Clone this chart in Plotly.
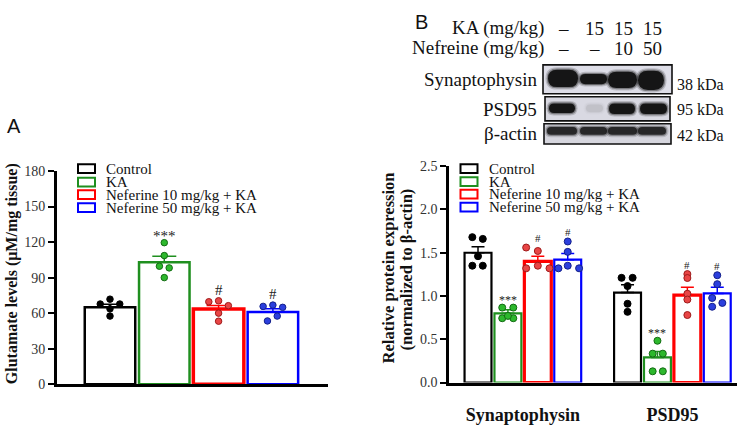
import plotly.graph_objects as go

W, H = 751, 425
def px(x): return x / W
def py(y): return (H - y) / H

SERIF = "Liberation Serif"

groups = ["Control", "KA", "Neferine 10 mg/kg + KA", "Neferine 50 mg/kg + KA"]
line_colors = ["#000000", "#1f8f1f", "#ff0000", "#0000ff"]
dot_fill = ["#000000", "#2db82d", "#e84545", "#2b3fdd"]
dot_edge = ["#000000", "#136b13", "#9e1a1a", "#14208a"]
bar_line_w = [2.5, 2.5, 3.5, 2.5]

# ---------- Panel A : glutamate ----------
glu_mean = [65.0, 103.0, 63.5, 61.0]
glu_sem = [2.6, 5.0, 3.0, 2.8]
glu_pts = [[67.7, 71.8, 67.7, 63.6, 57.5],
           [119.5, 108.6, 99.6, 98.2, 90.0],
           [69.6, 70.4, 66.3, 60.0, 53.2],
           [65.7, 66.8, 64.9, 57.5, 53.4]]
glu_jit = [[-0.18, 0, 0.18, 0, 0],
           [0, 0, -0.09, 0.09, 0],
           [-0.18, 0, 0.18, 0, 0],
           [-0.18, 0, 0.18, 0.08, -0.1]]
glu_marks = ["", "***", "#", "#"]
glu_ticks = [0, 30, 60, 90, 120, 150, 180]

# ---------- Panel B : protein expression ----------
proteins = ["Synaptophysin", "PSD95"]
syn_mean = [1.50, 0.80, 1.40, 1.42]
syn_sem = [0.07, 0.04, 0.06, 0.07]
syn_pts = [[1.68, 1.66, 1.35, 1.35, 1.46],
           [0.866, 0.866, 0.743, 0.743, 0.77],
           [1.56, 1.52, 1.32, 1.35, 1.32],
           [1.63, 1.51, 1.32, 1.35, 1.32]]
syn_jit = [[-0.19, 0.16, -0.19, 0.16, 0],
           [-0.19, 0.18, -0.19, 0.18, 0],
           [-0.39, 0, -0.39, 0, 0.39],
           [0, 0, -0.31, 0, 0.38]]
psd_mean = [1.04, 0.29, 1.01, 1.03]
psd_sem = [0.09, 0.07, 0.09, 0.07]
psd_pts = [[1.21, 1.21, 1.115, 0.91, 0.817],
           [0.483, 0.334, 0.334, 0.13, 0.13],
           [1.253, 1.208, 1.026, 0.959, 0.78],
           [1.24, 1.137, 0.977, 0.92, 0.876]]
psd_jit = [[-0.2, 0.17, 0, 0, 0],
           [0, -0.16, 0.18, -0.16, 0.18],
           [0, 0, 0, 0, 0],
           [0, 0, -0.17, 0.17, -0.17]]
syn_marks = ["", "***", "#", "#"]
psd_marks = ["", "***", "#", "#"]
exp_ticks = [0.0, 0.5, 1.0, 1.5, 2.0, 2.5]

# ---------- Western blot labels ----------
ka_dose = ["–", "15", "15", "15"]
nef_dose = ["–", "–", "10", "50"]
blot_rows = ["Synaptophysin", "PSD95", "β-actin"]
blot_kda = ["38 kDa", "95 kDa", "42 kDa"]
band_strength = [[1.0, 1.0, 1.0, 1.0],
                 [1.0, 0.08, 1.0, 1.0],
                 [0.85, 0.85, 0.85, 0.85]]

fig = go.Figure()

# Panel A bars + points
for i, g in enumerate(groups):
    fig.add_trace(go.Bar(
        x=[i], y=[glu_mean[i]], width=0.93, xaxis="x", yaxis="y",
        marker=dict(color="white", line=dict(color=line_colors[i], width=bar_line_w[i])),
        error_y=dict(type="data", array=[glu_sem[i]], arrayminus=[0], symmetric=False,
                     color=line_colors[i], thickness=1.5, width=12),
        showlegend=False, name=g))
for i, g in enumerate(groups):
    fig.add_trace(go.Scatter(
        x=[i + j for j in glu_jit[i]], y=glu_pts[i], mode="markers", xaxis="x", yaxis="y",
        marker=dict(size=6.5, color=dot_fill[i], line=dict(color=dot_edge[i], width=1)),
        showlegend=False))

# Panel B bars + points
for gi, (means, sems, pts, jit) in enumerate([(syn_mean, syn_sem, syn_pts, syn_jit),
                                               (psd_mean, psd_sem, psd_pts, psd_jit)]):
    base = gi * 5
    for i, g in enumerate(groups):
        fig.add_trace(go.Bar(
            x=[base + i], y=[means[i]], width=0.9, xaxis="x2", yaxis="y2",
            marker=dict(color="white", line=dict(color=line_colors[i], width=bar_line_w[i] - 0.3)),
            error_y=dict(type="data", array=[sems[i]], arrayminus=[0], symmetric=False,
                         color=line_colors[i], thickness=1.5, width=6.5),
            showlegend=False, name=g))
    for i, g in enumerate(groups):
        fig.add_trace(go.Scatter(
            x=[base + i + j for j in jit[i]], y=pts[i], mode="markers", xaxis="x2", yaxis="y2",
            marker=dict(size=7, color=dot_fill[i], line=dict(color=dot_edge[i], width=1)),
            showlegend=False))

annotations = []
shapes = []

def note(x, y, text, size, xanchor="center", family=SERIF, **kw):
    d = dict(x=px(x), y=py(y), xref="paper", yref="paper", text=text, showarrow=False,
             xanchor=xanchor, yanchor="middle", font=dict(family=family, size=size, color="#111"))
    d.update(kw)
    annotations.append(d)

# significance marks
for i, m in enumerate(glu_marks):
    if m:
        pad = 6 if m == "***" else 9.5
        annotations.append(dict(x=i, y=max(glu_pts[i]) + pad, xref="x", yref="y", text=m,
                                showarrow=False, font=dict(family=SERIF, size=15, color="#222"),
                                xanchor="center", yanchor="middle"))
for gi, (marks, pts) in enumerate([(syn_marks, syn_pts), (psd_marks, psd_pts)]):
    for i, m in enumerate(marks):
        if m:
            pad = 0.09 if m == "***" else 0.11
            annotations.append(dict(x=gi * 5 + i, y=max(pts[i]) + pad, xref="x2", yref="y2", text=m,
                                    showarrow=False,
                                    font=dict(family=SERIF, size=12 if m == "***" else 11, color="#222"),
                                    xanchor="center", yanchor="middle"))

# custom legends
def legend(x_box, x_text, rows_y):
    for i, g in enumerate(groups):
        y = rows_y[i]
        shapes.append(dict(type="rect", xref="paper", yref="paper",
                           x0=px(x_box), x1=px(x_box + 17), y0=py(y - 4.5), y1=py(y + 4.5),
                           line=dict(color=line_colors[i], width=2), fillcolor="white"))
        note(x_text, y, g, 15, xanchor="left")
legend(78, 104, [167.5, 181.5, 194.5, 208])
legend(460.5, 487, [167.5, 181, 194, 207.5])

# axis titles
note(12, 277, "<b>Glutamate levels (μM/mg tissue)</b>", 16, textangle=-90)
note(388, 271, "<b>Relative protein expression</b>", 16.5, textangle=-90)
note(406, 272, "<b>(normalized to β-actin)</b>", 16.5, textangle=-90)

# panel letters
note(13.5, 123, "A", 20, family="Liberation Sans")
note(422, 16, "B", 20, family="Liberation Sans")

# ---------- western blot drawing ----------
lane_c = [563, 594, 623, 652]
note(546, 22, "KA (mg/kg)", 19, xanchor="right")
note(546, 43, "Nefreine (mg/kg)", 19, xanchor="right")
for k in range(4):
    note(lane_c[k], 22, ka_dose[k], 19)
    note(lane_c[k], 43, nef_dose[k], 19)

boxes = [(543, 60, 672, 90), (545, 93, 670, 118), (544, 121, 671, 142)]
row_label_y = [75, 106, 131]
kda_y = [80, 106, 133]
box_fill = ["#dedee8", "#d9d9e2", "#d6d6de"]
lanes = [[(548, 578), (580, 607), (608, 637), (638, 664)],
         [(549, 575), (586, 603), (609, 635), (640, 667)],
         [(547, 577), (580, 607), (608, 637), (638, 666)]]
band_y = [[(65, 83), (69.5, 80), (67, 84), (66, 86)],
          [(100, 110), (101, 109), (100, 111), (100, 111)],
          [(124.5, 132.5), (124.5, 132.5), (124.5, 132.5), (124.5, 132.5)]]

def pill(x0, y0, x1, y1):
    r = min((y1 - y0) / 2, (x1 - x0) / 2)
    pts = [("M", x0 + r, y0), ("L", x1 - r, y0), ("Q", x1, y0, x1, y0 + r), ("L", x1, y1 - r),
           ("Q", x1, y1, x1 - r, y1), ("L", x0 + r, y1), ("Q", x0, y1, x0, y1 - r),
           ("L", x0, y0 + r), ("Q", x0, y0, x0 + r, y0)]
    s = ""
    for p in pts:
        if p[0] == "Q":
            s += f"Q{px(p[1]):.5f},{py(p[2]):.5f} {px(p[3]):.5f},{py(p[4]):.5f} "
        else:
            s += f"{p[0]}{px(p[1]):.5f},{py(p[2]):.5f} "
    return s + "Z"

for r in range(3):
    x0, y0, x1, y1 = boxes[r]
    shapes.append(dict(type="rect", xref="paper", yref="paper", x0=px(x0), x1=px(x1),
                       y0=py(y1), y1=py(y0), fillcolor=box_fill[r], line=dict(width=0)))
    for k in range(4):
        bx0, bx1 = lanes[r][k]
        by0, by1 = band_y[r][k]
        s = band_strength[r][k]
        for grow, op in [(2.5, 0.18), (1.2, 0.35), (0, 0.9)]:
            shapes.append(dict(type="path", xref="paper", yref="paper",
                               path=pill(bx0 - grow, by0 - grow, bx1 + grow, by1 + grow),
                               fillcolor="#0a0a0a", opacity=op * s, line=dict(width=0)))
    shapes.append(dict(type="rect", xref="paper", yref="paper", x0=px(x0), x1=px(x1),
                       y0=py(y1), y1=py(y0), fillcolor="rgba(0,0,0,0)",
                       line=dict(color="#111", width=1.6)))
    note(539, row_label_y[r], blot_rows[r], 19, xanchor="right")
    note(675, kda_y[r], blot_kda[r], 16, xanchor="left")

axis_common = dict(showgrid=False, zeroline=False, showline=True, linecolor="black")
fig.update_layout(
    width=W, height=H, autosize=False,
    margin=dict(l=0, r=0, t=0, b=0),
    paper_bgcolor="white", plot_bgcolor="white",
    barmode="overlay", showlegend=False,
    xaxis=dict(domain=[px(57), px(328)], range=[-0.976, 4.015], linewidth=3,
               showticklabels=False, ticks="", **axis_common),
    yaxis=dict(domain=[py(391), py(170)], range=[0, 180], tickvals=glu_ticks, ticks="outside",
               ticklen=6, tickwidth=2, linewidth=3, tickcolor="black",
               tickfont=dict(family=SERIF, size=14, color="#333"), **axis_common),
    xaxis2=dict(domain=[px(449), px(737)], range=[-0.97, 8.66], linewidth=2.5, anchor="y2",
                tickvals=[1.5, 6.5], ticktext=[f"<b>{p}</b>" for p in proteins], ticks="",
                ticklabelstandoff=14,
                tickfont=dict(family=SERIF, size=18, color="#111"), **axis_common),
    yaxis2=dict(domain=[py(389.3), py(165)], range=[0, 2.5], tickvals=exp_ticks, tickformat=".1f",
                ticks="outside", ticklen=6, tickwidth=2, linewidth=2.5, tickcolor="black", anchor="x2",
                tickfont=dict(family=SERIF, size=14, color="#333"), **axis_common),
    annotations=annotations, shapes=shapes,
)

fig.write_html("out.html", config={"displayModeBar": False},
               post_script="document.body.style.margin='0px';document.body.style.overflow='hidden';")
